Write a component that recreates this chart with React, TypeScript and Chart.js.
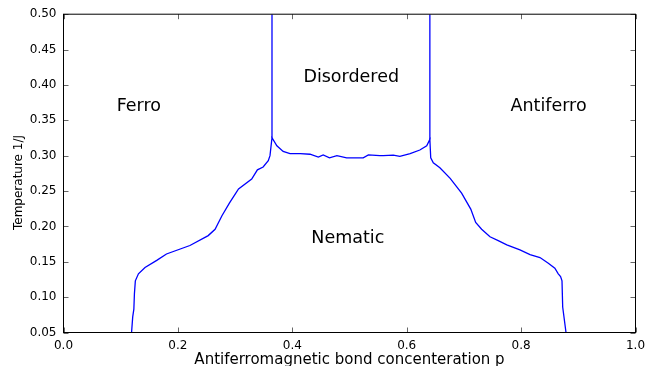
import { useEffect, useRef } from 'react';
import { Chart, registerables } from 'chart.js';

Chart.register(...registerables);

// Phase boundary: p (antiferromagnetic bond concentration) and T (temperature 1/J)
const boundaryP = [
  0.119, 0.121, 0.123, 0.124, 0.1256, 0.131, 0.1425, 0.163, 0.18, 0.221,
  0.253, 0.265, 0.277, 0.29, 0.306, 0.329, 0.339, 0.349, 0.358, 0.361,
  0.3645, 0.373, 0.384, 0.396, 0.414, 0.431, 0.4455, 0.454, 0.465, 0.478,
  0.495, 0.524, 0.533, 0.553, 0.559, 0.5766, 0.588, 0.606, 0.623, 0.635,
  0.6405, 0.642, 0.6465, 0.658, 0.676, 0.696, 0.712, 0.7206, 0.731, 0.7456,
  0.76, 0.775, 0.798, 0.8156, 0.833, 0.8476, 0.859, 0.865, 0.869, 0.8715,
  0.8727, 0.8785,
];
const boundaryT = [
  0.05, 0.072, 0.083, 0.105, 0.123, 0.133, 0.142, 0.152, 0.161, 0.173,
  0.187, 0.196, 0.215, 0.233, 0.253, 0.267, 0.28, 0.284, 0.293, 0.3,
  0.3255, 0.314, 0.306, 0.303, 0.303, 0.302, 0.298, 0.301, 0.297, 0.3,
  0.297, 0.297, 0.301, 0.3, 0.3, 0.3007, 0.299, 0.303, 0.308, 0.314,
  0.323, 0.297, 0.29, 0.283, 0.268, 0.247, 0.2245, 0.2056, 0.196, 0.1854,
  0.18, 0.174, 0.1667, 0.16, 0.156, 0.148, 0.141, 0.133, 0.129, 0.123,
  0.086, 0.05,
];
const leftVerticalP = [0.3645, 0.3645];
const leftVerticalT = [0.3255, 0.5];
const rightVerticalP = [0.6405, 0.6405];
const rightVerticalT = [0.323, 0.5];

const regionLabels = ['Ferro', 'Disordered', 'Antiferro', 'Nematic'];
const regionP = [0.1316, 0.503, 0.848, 0.497];
const regionT = [0.369, 0.41, 0.369, 0.1836];

const xTitle = 'Antiferromagnetic bond concenteration p';
const yTitle = 'Temperature 1/J';

const FONT = '"DejaVu Sans", sans-serif';
const LINE = '#0000ff';

const toPoints = (xs: number[], ys: number[]) => xs.map((x, i) => ({ x, y: ys[i] }));

const framePlugin = {
  id: 'mplFrame',
  afterDraw(chart: any) {
    const { ctx, chartArea: a, scales } = chart;
    const xs = scales.x;
    const ys = scales.y;
    ctx.save();
    // inward ticks on all four sides
    ctx.strokeStyle = 'rgba(0,0,0,0.6)';
    ctx.lineWidth = 1;
    ctx.beginPath();
    xs.ticks.forEach((t: any) => {
      const px = Math.round(xs.getPixelForValue(t.value)) + 0.5;
      ctx.moveTo(px, a.bottom);
      ctx.lineTo(px, a.bottom - 5);
      ctx.moveTo(px, a.top);
      ctx.lineTo(px, a.top + 5);
    });
    ys.ticks.forEach((t: any) => {
      const py = Math.round(ys.getPixelForValue(t.value)) + 0.5;
      ctx.moveTo(a.left, py);
      ctx.lineTo(a.left + 5, py);
      ctx.moveTo(a.right, py);
      ctx.lineTo(a.right - 5, py);
    });
    ctx.stroke();
    // frame
    ctx.strokeStyle = '#000';
    ctx.lineWidth = 1;
    ctx.strokeRect(a.left, a.top, a.right - a.left, a.bottom - a.top);
    // region labels
    ctx.fillStyle = '#000';
    ctx.font = `17.5px ${FONT}`;
    ctx.textAlign = 'center';
    ctx.textBaseline = 'middle';
    regionLabels.forEach((label, i) => {
      ctx.fillText(label, xs.getPixelForValue(regionP[i]), ys.getPixelForValue(regionT[i]));
    });
    // axis titles
    ctx.font = `15px ${FONT}`;
    ctx.textBaseline = 'alphabetic';
    ctx.fillText(xTitle, (a.left + a.right) / 2, 364);
    ctx.font = `12px ${FONT}`;
    ctx.translate(21.5, 182.5);
    ctx.rotate(-Math.PI / 2);
    ctx.fillText(yTitle, 0, 0);
    ctx.restore();
  },
};

export default function App() {
  const ref = useRef<HTMLCanvasElement | null>(null);
  useEffect(() => {
    if (!ref.current) return;
    const chart = new Chart(ref.current, {
      type: 'scatter',
      data: {
        datasets: [
          { data: toPoints(boundaryP, boundaryT) },
          { data: toPoints(leftVerticalP, leftVerticalT) },
          { data: toPoints(rightVerticalP, rightVerticalT) },
        ].map((d) => ({
          ...d,
          showLine: true,
          borderColor: LINE,
          backgroundColor: LINE,
          borderWidth: 1.3,
          pointRadius: 0,
          pointHoverRadius: 0,
          tension: 0,
        })),
      },
      options: {
        animation: false,
        responsive: false,
        devicePixelRatio: 1,
        layout: { padding: { top: 12.5, right: 21.5, left: 0, bottom: 0 } },
        plugins: { legend: { display: false }, tooltip: { enabled: false } },
        scales: {
          x: {
            type: 'linear',
            min: 0,
            max: 1,
            grid: { display: false, drawTicks: false },
            border: { display: false },
            ticks: {
              stepSize: 0.2,
              padding: 6,
              color: '#000',
              font: { family: FONT, size: 12 },
              maxRotation: 0,
              callback: (v: any) => Number(v).toFixed(1),
            },
            afterFit: (s: any) => {
              s.height = 33.5;
            },
          },
          y: {
            type: 'linear',
            min: 0.05,
            max: 0.5,
            grid: { display: false, drawTicks: false },
            border: { display: false },
            ticks: {
              stepSize: 0.05,
              padding: 7,
              color: '#000',
              font: { family: FONT, size: 12 },
              callback: (v: any) => Number(v).toFixed(2),
            },
            afterFit: (s: any) => {
              s.width = 63.5;
            },
          },
        },
      },
      plugins: [framePlugin],
    });
    return () => chart.destroy();
  }, []);
  return (
    <div style={{ position: 'absolute', left: 0, top: 0, width: 657, height: 366, background: '#fff' }}>
      <canvas ref={ref} width={657} height={366} style={{ display: 'block' }} />
    </div>
  );
}
